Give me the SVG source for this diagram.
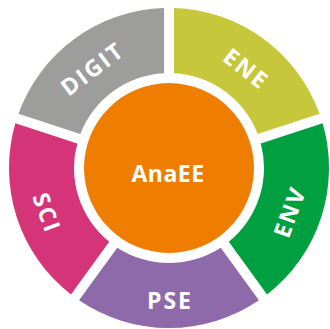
<svg xmlns="http://www.w3.org/2000/svg" width="330" height="329" viewBox="0 0 330 329">
<style>
.lbl{font-family:"Open Sans","Liberation Sans",sans-serif;font-weight:bold;font-size:23px;fill:#ffffff;text-anchor:middle;letter-spacing:2px}
.ctr{font-family:"Open Sans","Liberation Sans",sans-serif;font-weight:bold;font-size:23px;fill:#ffffff;text-anchor:middle;letter-spacing:0.5px}
</style>
<rect width="330" height="329" fill="#ffffff"/>
<g id="ENE">
<path d="M174,8.08 A160,160 0 0 1 319.55,113.82 L257.68,133.93 A95,95 0 0 0 174,73.13 Z" fill="#c6c73a"/>
<text class="lbl" transform="translate(246,69) rotate(38)" y="8">ENE</text>
</g>
<g id="ENV">
<path d="M322.64,123.33 A160,160 0 0 1 267.05,294.44 L228.81,241.81 A95,95 0 0 0 260.77,143.44 Z" fill="#00a040"/>
<text class="lbl" transform="translate(290,212) rotate(-70)" y="8">ENV</text>
</g>
<g id="PSE">
<path d="M258.95,300.32 A160,160 0 0 1 79.05,300.32 L117.28,247.69 A95,95 0 0 0 220.72,247.69 Z" fill="#8e6aab"/>
<text class="lbl" x="170" y="309">PSE</text>
</g>
<g id="SCI">
<path d="M70.95,294.44 A160,160 0 0 1 15.36,123.33 L77.23,143.44 A95,95 0 0 0 109.19,241.81 Z" fill="#d63478"/>
<text class="lbl" transform="translate(46.5,213) rotate(70)" y="8">SCI</text>
</g>
<g id="DIGIT">
<path d="M18.45,113.82 A160,160 0 0 1 164,8.08 L164,73.13 A95,95 0 0 0 80.32,133.93 Z" fill="#9d9d9c"/>
<text class="lbl" transform="translate(92.5,69) rotate(-37)" y="8">DIGIT</text>
</g>
<g id="AnaEE">
<circle cx="169" cy="168" r="85" fill="#ef7d00"/>
<text class="ctr" x="168" y="182">AnaEE</text>
</g>
<g id="connectors"></g>
</svg>
